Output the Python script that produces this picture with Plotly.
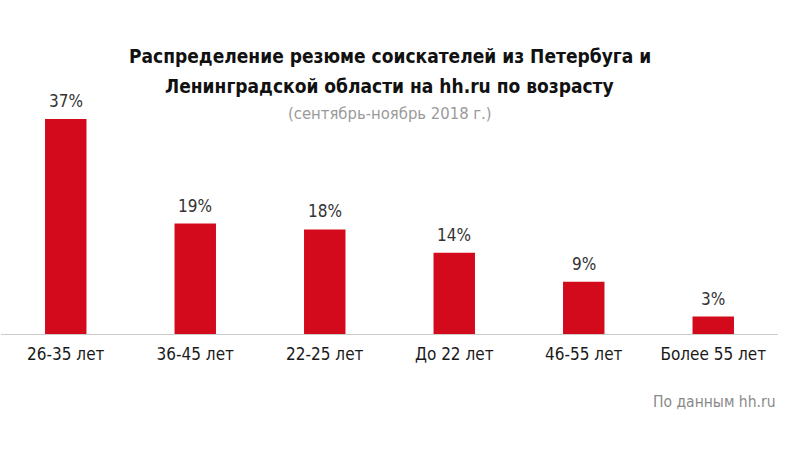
import plotly.graph_objects as go

categories = ["26-35 лет", "36-45 лет", "22-25 лет", "До 22 лет", "46-55 лет", "Более 55 лет"]
values = [37, 19, 18, 14, 9, 3]
value_labels = ["37%", "19%", "18%", "14%", "9%", "3%"]

title_line1 = "Распределение резюме соискателей из Петербуга и"
title_line2 = "Ленинградской области на hh.ru по возрасту"
subtitle = "(сентябрь-ноябрь 2018 г.)"
source = "По данным hh.ru"

RED = "#d30a1c"
FONT = "Liberation Sans Narrow, DejaVu Sans Condensed, Roboto, sans-serif"

fig = go.Figure()
fig.add_trace(go.Bar(
    x=categories, y=values,
    marker=dict(color=RED, line=dict(width=0)),
    hoverinfo="skip",
))

annotations = []
for c, v, t in zip(categories, values, value_labels):
    annotations.append(dict(x=c, y=v, xref="x", yref="y", text=t, showarrow=False,
                            yanchor="bottom", yshift=6,
                            font=dict(family=FONT, size=17, color="#333333")))

plot_h = 234.0
def py(Y):
    return (334 - Y) / plot_h

annotations += [
    dict(x=0.5, y=py(56), xref="paper", yref="paper", text="<b>" + title_line1 + "</b>",
         showarrow=False, yanchor="middle", xanchor="center",
         font=dict(family=FONT, size=19, color="#111111")),
    dict(x=0.5, y=py(86), xref="paper", yref="paper", text="<b>" + title_line2 + "</b>",
         showarrow=False, yanchor="middle", xanchor="center",
         font=dict(family=FONT, size=19, color="#111111")),
    dict(x=0.5, y=py(113), xref="paper", yref="paper", text=subtitle,
         showarrow=False, yanchor="middle", xanchor="center",
         font=dict(family=FONT, size=16.5, color="#9a9a9a")),
    dict(x=1.0, y=py(402), xref="paper", yref="paper", text=source,
         showarrow=False, yanchor="middle", xanchor="right",
         font=dict(family=FONT, size=15.5, color="#8a8a8a")),
]

fig.update_layout(
    width=800, height=450,
    margin=dict(l=1, r=22, t=100, b=116),
    paper_bgcolor="white", plot_bgcolor="white",
    bargap=0.68,
    showlegend=False,
    annotations=annotations,
    xaxis=dict(showgrid=False, showline=True, linecolor="#cccccc", linewidth=1,
               ticks="", tickfont=dict(family=FONT, size=17, color="#1a1a1a"),
               ticklabelstandoff=5, fixedrange=True),
    yaxis=dict(range=[0, plot_h / 5.81], visible=False, showgrid=False, fixedrange=True),
)

fig.write_html("out.html", config={"displayModeBar": False},
               post_script="document.body.style.margin='0';")
